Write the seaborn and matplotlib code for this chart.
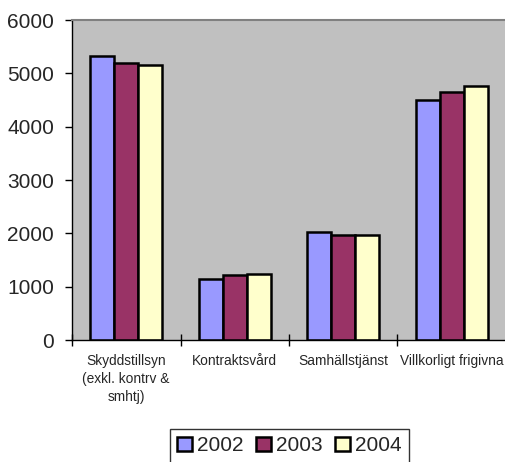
import pandas as pd
import matplotlib
matplotlib.use('Agg')
import matplotlib.pyplot as plt
import seaborn as sns

# Data
categories = ['Skyddstillsyn\n(exkl. kontrv &\nsmhtj)', 'Kontraktsvård',
              'Samhällstjänst', 'Villkorligt frigivna']
years = ['2002', '2003', '2004']
values_2002 = [5330, 1140, 2020, 4500]
values_2003 = [5190, 1210, 1965, 4655]
values_2004 = [5155, 1235, 1965, 4755]
colors = ['#9999FF', '#993366', '#FFFFCC']

df = pd.DataFrame({
    'category': categories * 3,
    'year': [y for y in years for _ in categories],
    'value': values_2002 + values_2003 + values_2004,
})

sns.set_style('white')
plt.rcParams['font.family'] = ['Liberation Sans', 'DejaVu Sans']

fig = plt.figure(figsize=(5.06, 4.62), dpi=100)
ax = fig.add_axes([72 / 506, 1 - 340 / 462, 434 / 506, 320 / 462])
ax.set_facecolor('#C0C0C0')

sns.barplot(data=df, x='category', y='value', hue='year', palette=colors,
            order=categories, hue_order=years, width=0.664, gap=0,
            edgecolor='black', linewidth=1.8, saturation=1, ax=ax)

ax.set_xlim(-0.5, 3.5)
ax.set_ylim(0, 6000)
ax.set_yticks(range(0, 7000, 1000))
ax.set_xlabel('')
ax.set_ylabel('')

# category labels at centres, tick marks between categories
ax.tick_params(axis='x', which='major', length=0, labelsize=9.9, pad=10)
for lbl in ax.get_xticklabels():
    lbl.set_linespacing(1.35)
ax.set_xticks([-0.5, 0.5, 1.5, 2.5, 3.5], minor=True)
ax.tick_params(axis='x', which='minor', direction='inout', length=8,
               width=1, color='black', bottom=True)
ax.tick_params(axis='y', direction='out', length=5, width=1, color='black',
               labelsize=15, pad=8, left=True)

for side in ['left', 'bottom']:
    ax.spines[side].set_color('black')
    ax.spines[side].set_linewidth(1)
ax.spines['top'].set_color('#808080')
ax.spines['top'].set_linewidth(1.5)
ax.spines['right'].set_visible(False)

ax.get_legend().remove()
handles = [plt.Rectangle((0, 0), 1, 1, facecolor=c, edgecolor='black', linewidth=1.8)
           for c in colors]
leg = fig.legend(handles, years, loc='upper center', ncol=3,
                 bbox_to_anchor=(289.5 / 506, 1 - 429 / 462),
                 fontsize=15, frameon=True, fancybox=False, edgecolor='black',
                 handlelength=0.7, handleheight=0.7, handletextpad=0.25,
                 columnspacing=0.6, borderpad=0.35, borderaxespad=0)
leg.get_frame().set_linewidth(1)

fig.savefig('out.png', dpi=100)
